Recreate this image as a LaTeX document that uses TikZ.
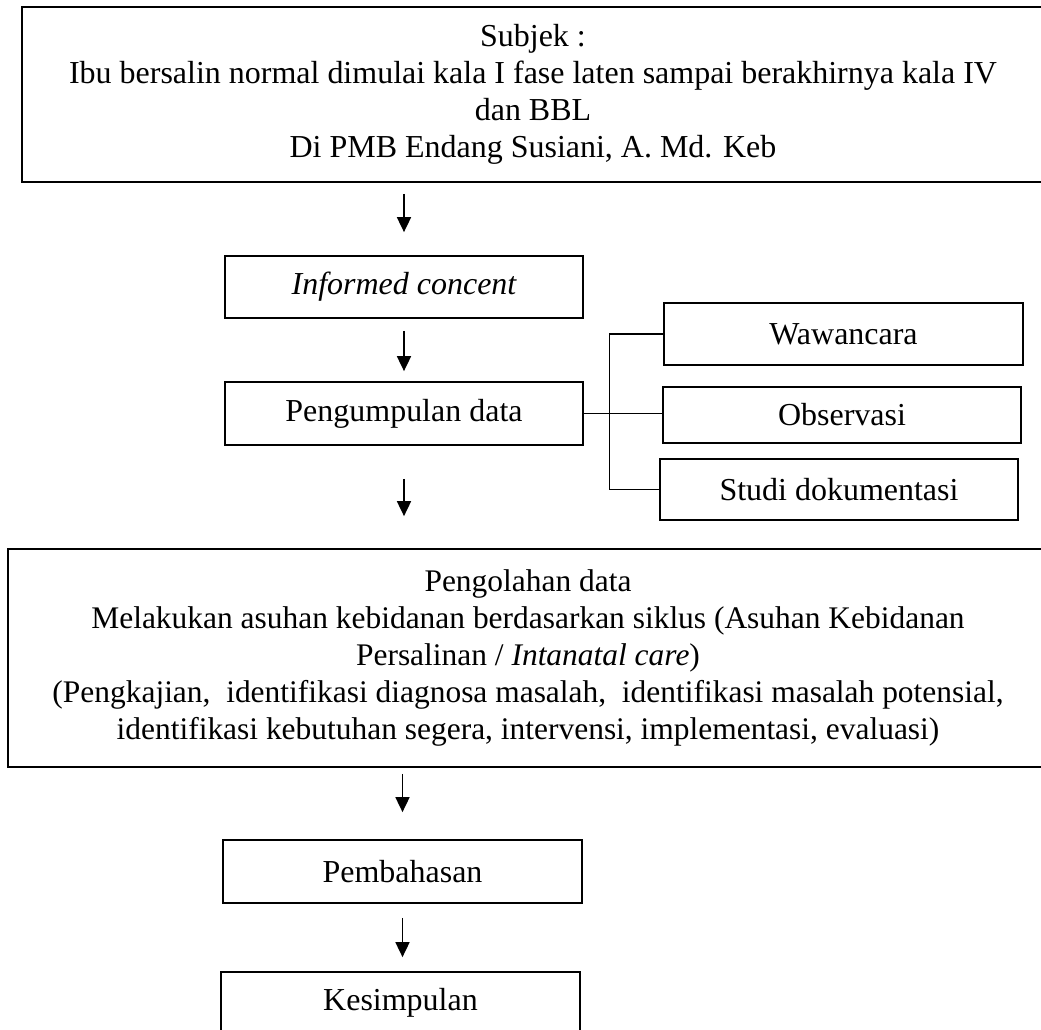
\documentclass[tikz,border=0pt]{standalone}
\usepackage{fontspec}
\setmainfont{Liberation Serif}
\usetikzlibrary{arrows.meta}

\tikzset{
  box/.style={draw, line width=1pt, inner sep=0pt, align=center},
  small/.style={box, minimum width=7.17cm, minimum height=1.24cm},
  arr/.style={line width=1pt, -{Triangle[length=0.3cm,width=0.28cm]}}
}

\begin{document}
\begin{tikzpicture}[x=0.02cm, y=-0.02cm, font=\fontsize{18.2}{21}\selectfont]
\useasboundingbox (0,0) rectangle (1041,1030);
\node[box, minimum width=20.44cm, minimum height=3.5cm] (subjek) at (533,94.5)
  {Subjek :\\Ibu bersalin normal dimulai kala I fase laten sampai berakhirnya kala IV\\dan BBL\\Di PMB Endang Susiani, A. Md. Keb};
\node[small] (informed) at (404,287) {\itshape Informed concent};
\node[small, minimum height=1.26cm] (kumpul) at (404,413.5) {Pengumpulan data};
\node[small] (wawancara) at (843.5,334) {Wawancara};
\node[small, minimum height=1.12cm] (observasi) at (842,415) {Observasi};
\node[small, minimum height=1.22cm] (studi) at (839,489.5) {Studi dokumentasi};
\node[box, minimum width=20.8cm, minimum height=4.36cm, font=\fontsize{17.9}{21}\selectfont] (olah) at (528,658)
  {Pengolahan data\\Melakukan asuhan kebidanan berdasarkan siklus (Asuhan Kebidanan\\Persalinan / \textit{Intanatal care})\\(Pengkajian,\ \ identifikasi diagnosa masalah,\ \ identifikasi masalah potensial,\\identifikasi kebutuhan segera, intervensi, implementasi, evaluasi)};
\node[small, minimum height=1.26cm] (bahas) at (402.5,871.5) {Pembahasan};
\node[small] (simpul) at (400.5,1003) {Kesimpulan};
% arrows
\draw[arr, shorten <=0.22cm, shorten >=0.46cm] (subjek.south -| informed.north) -- (informed.north);
\draw[arr, shorten <=0.24cm, shorten >=0.2cm] (informed.south) -- (kumpul.north);
\draw[arr, shorten <=0.66cm, shorten >=0.64cm] (kumpul.south) -- (kumpul.south |- olah.north);
\draw[arr, shorten <=0.12cm, shorten >=0.54cm] (olah.south -| bahas.north) -- (bahas.north);
\draw[arr, shorten <=0.28cm, shorten >=0.28cm] (bahas.south) -- (bahas.south |- simpul.north);
% branches
\draw[line width=1pt] (kumpul.east) -- (kumpul.east -| observasi.west);
\draw[line width=1pt] (wawancara.west) -- ++(-54,0) |- (studi.west);
\end{tikzpicture}
\end{document}
